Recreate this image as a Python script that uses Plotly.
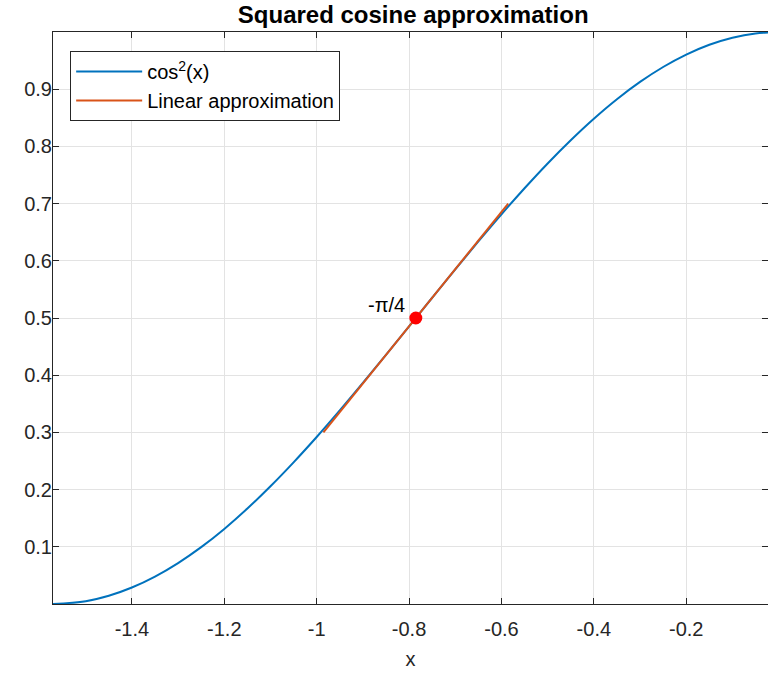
import plotly.graph_objects as go

# cos^2(x) curve, values
x_curve = [-1.5708, -1.5, -1.45, -1.4, -1.35, -1.3, -1.25, -1.2, -1.15, -1.1, -1.05,
           -1.0, -0.95, -0.9, -0.85, -0.8, -0.75, -0.7, -0.65, -0.6, -0.55, -0.5,
           -0.45, -0.4, -0.35, -0.3, -0.25, -0.2, -0.15, -0.1, -0.05, 0.0]
y_curve = [0.0, 0.005, 0.0145, 0.0289, 0.048, 0.0716, 0.0994, 0.1313, 0.1669, 0.2058, 0.2476,
           0.2919, 0.3384, 0.3864, 0.4356, 0.4854, 0.5354, 0.585, 0.6338, 0.6812, 0.7268, 0.7702,
           0.8108, 0.8484, 0.8825, 0.9127, 0.9388, 0.9605, 0.9777, 0.99, 0.9975, 1.0]

# linear approximation (tangent line)
x_lin = [-0.9854, -0.5854]
y_lin = [0.3, 0.7]

# point of tangency
x_pt = [-0.7854]
y_pt = [0.5]
pt_label = "-π/4"

x_ticks = [-1.4, -1.2, -1.0, -0.8, -0.6, -0.4, -0.2]
x_ticklabels = ["-1.4", "-1.2", "-1", "-0.8", "-0.6", "-0.4", "-0.2"]
y_ticks = [0.1, 0.2, 0.3, 0.4, 0.5, 0.6, 0.7, 0.8, 0.9]
y_ticklabels = ["0.1", "0.2", "0.3", "0.4", "0.5", "0.6", "0.7", "0.8", "0.9"]

FONT = "Liberation Sans, Arial, sans-serif"
AX = "#262626"
GRID = "#E3E3E3"

fig = go.Figure()
fig.add_trace(go.Scatter(x=x_curve, y=y_curve, mode="lines", name="cos<sup>2</sup>(x)",
                         line=dict(color="#0072BD", width=2, shape="spline")))
fig.add_trace(go.Scatter(x=x_lin, y=y_lin, mode="lines", name="Linear approximation",
                         line=dict(color="#D95319", width=2)))
fig.add_trace(go.Scatter(x=x_pt, y=y_pt, mode="markers", showlegend=False,
                         marker=dict(color="#FF0000", size=13)))

fig.add_annotation(x=x_pt[0], y=y_pt[0], text=pt_label, showarrow=False,
                   xanchor="right", yanchor="bottom", xshift=-9, yshift=0,
                   font=dict(family=FONT, size=20, color="#000000"))

fig.update_layout(
    width=768, height=675,
    margin=dict(l=53, r=0, t=32, b=71),
    paper_bgcolor="white", plot_bgcolor="white",
    font=dict(family=FONT, size=20, color=AX),
    title=dict(text="<b>Squared cosine approximation</b>", x=0.538, xanchor="center",
               y=0.978, yanchor="middle", font=dict(family=FONT, size=24, color="#000000")),
    showlegend=True,
    legend=dict(x=0.024, y=0.967, xanchor="left", yanchor="top",
                bgcolor="white", bordercolor="#262626", borderwidth=1,
                font=dict(family=FONT, size=20, color="#000000"),
                tracegroupgap=0, itemwidth=66),
)
fig.update_xaxes(range=[-1.5708, -0.023], tickvals=x_ticks, ticktext=x_ticklabels,
                 ticks="inside", ticklen=6, tickcolor=AX, showline=True, linecolor=AX,
                 linewidth=1, mirror="ticks", showgrid=True, gridcolor=GRID, gridwidth=1,
                 zeroline=False, ticklabelstandoff=7,
                 title=dict(text="x", font=dict(size=20, color=AX), standoff=12),
                 tickfont=dict(size=20, color=AX))
fig.update_yaxes(range=[0, 1], tickvals=y_ticks, ticktext=y_ticklabels,
                 ticks="inside", ticklen=6, tickcolor=AX, showline=True, linecolor=AX,
                 linewidth=1, mirror="ticks", showgrid=True, gridcolor=GRID, gridwidth=1,
                 zeroline=False, ticklabelstandoff=-4, tickfont=dict(size=20, color=AX))

fig.write_html("out.html")
